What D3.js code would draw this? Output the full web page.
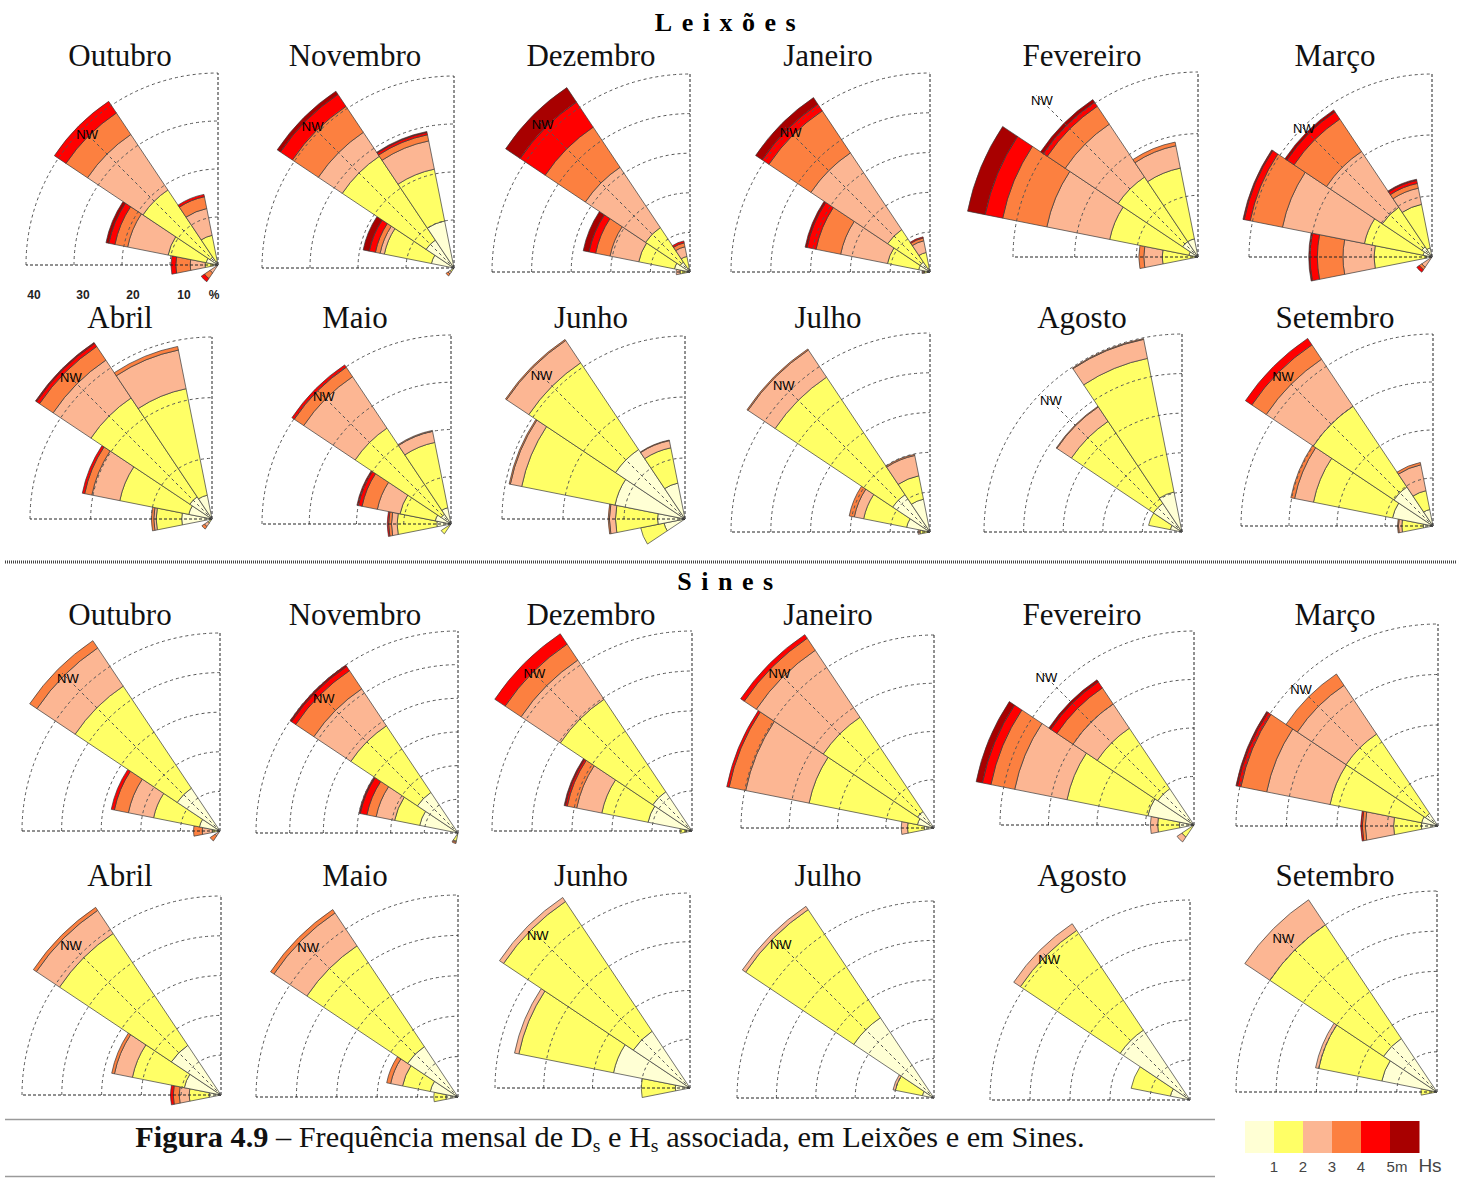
<!DOCTYPE html>
<html>
<head>
<meta charset="utf-8">
<script src="https://cdn.jsdelivr.net/npm/d3@7"></script>
<style>
  body { margin: 0; background: #fff; }
  svg { display: block; }
</style>
</head>
<body>
<svg id="fig" width="1463" height="1178"></svg>
<script>
// ---------------------------------------------------------------
// Hs classes: <1, 1-2, 2-3, 3-4, 4-5, >5 m
// ---------------------------------------------------------------
const hsLabels = ["1", "2", "3", "4", "5m"];
const hsColors = ["#FFFFD4", "#FFFF66", "#FCB693", "#FC8040", "#FF0000", "#A80000"];

const months = ["Outubro", "Novembro", "Dezembro", "Janeiro", "Fevereiro", "Março",
                "Abril", "Maio", "Junho", "Julho", "Agosto", "Setembro"];
const stations = ["Leixões", "Sines"];

// centre bearing (deg) of each 22.5° direction sector
const sectorBearing = { SSW: 202.5, SW: 225, WSW: 247.5, W: 270, WNW: 292.5, NW: 315, NNW: 337.5, N: 360 };

// outer limit (%) of the radial axis of each monthly rose
const leixoesAxisMax = [40, 40, 50, 50, 30, 30, 30, 40, 30, 50, 50, 40];
const sinesAxisMax   = [50, 60, 50, 40, 40, 40, 50, 50, 40, 50, 50, 50];
const radialTicks = [10, 20, 30, 40];

// Cumulative frequency (%) per direction, at the upper limit of each Hs class
// [direction, <1, <2, <3, <4, <5, all]
const leixoesOutubro = [["SW", 0, 0, 2, 3.4, 4.2], ["W", 1, 2.7, 5.8, 8.8, 9.8],
  ["WNW", 2.5, 10.6, 19.2, 21.9, 23.2, 23.8], ["NW", 2, 18.8, 32.7, 38.1, 41], ["NNW", 0.8, 6.3, 12, 14.5, 15]];
const leixoesNovembro = [["SW", 0, 1, 1.5, 2], ["WNW", 4.8, 14.8, 15.7, 16.7, 18, 19.3],
  ["NW", 7, 28, 34, 40.5, 43.5, 44.3], ["NNW", 10, 21, 27, 28.3, 28.8, 29]];
const leixoesDezembro = [["W", 1, 2.5, 3.5], ["WNW", 4, 13.2, 20.6, 24.3, 26, 27.5],
  ["NW", 3, 13.5, 31.8, 44, 51.6, 56], ["NNW", 1, 4, 6.5, 7.5, 8]];
const leixoesJaneiro = [["W", 0.5, 1.5, 2], ["WNW", 2.9, 10.9, 22.9, 29.2, 31.5, 32],
  ["NW", 3, 12.8, 36, 48.7, 50.7, 52.7], ["NNW", 1, 5, 8, 8.7, 9]];
const leixoesFevereiro = [["W", 0.5, 5.8, 8.8, 9.6], ["WNW", 1.5, 14.6, 25, 32.3, 35.2, 38.1],
  ["NW", 3, 15.6, 25.9, 29.4, 30.2, 30.7], ["NNW", 3, 14.7, 18.4, 19]];
const leixoesMarco = [["SW", 0, 0, 2, 2.5, 3], ["W", 1, 9.5, 14.6, 18.8, 20, 20.2],
  ["WNW", 1.5, 11.3, 25, 30.4, 31.4, 31.6], ["NW", 2, 9.8, 20.8, 27.2, 28.6, 29],
  ["NNW", 1.5, 8.8, 11.5, 12.3, 12.8, 13]];
const leixoesAbril = [["SW", 0, 0.8, 1.5, 2], ["W", 5, 9.2, 9.6, 10], ["WNW", 3.9, 15.5, 20.2, 21.4, 21.8],
  ["NW", 4.4, 24, 31.5, 34.2, 34.8, 35], ["NNW", 4, 21.9, 28.4, 29]];
const leixoesMaio = [["SW", 0.5, 2.5], ["W", 3, 11.4, 12.6, 13.2, 13.5], ["WNW", 3.4, 11, 15.9, 19.2, 20, 20.3],
  ["NW", 2.5, 24.4, 37.5, 39.9, 40.5], ["NNW", 3.5, 17.6, 20, 20.2]];
const leixoesJunho = [["WSW", 3.5, 7.4], ["W", 4.5, 11.4, 12.4, 12.6], ["WNW", 11.7, 27.3, 29.2, 29.4],
  ["NW", 13.7, 30.8, 35.2, 35.4], ["NNW", 6, 11.9, 13.1, 13.2]];
const leixoesJulho = [["W", 0.5, 2.5, 3], ["WNW", 6, 17, 19.4, 20.7],
  ["NW", 11.3, 46.8, 55, 55.3], ["NNW", 8.4, 14.4, 19.6, 19.9]];
const leixoesAgosto = [["WNW", 3, 8.6], ["NW", 8.7, 33.6, 38, 38.2], ["NNW", 10.3, 44.7, 49.6, 49.8]];
const leixoesSetembro = [["W", 2, 6.5, 7.2, 7.4], ["WNW", 8.6, 25.4, 29.4, 30.2],
  ["NW", 9.8, 30, 41.8, 45.4, 47], ["NNW", 3.5, 7.5, 13, 13.5]];

const sinesOutubro = [["SW", 0, 0, 1.5, 3], ["W", 0, 2, 4.5, 6.7],
  ["WNW", 5.3, 17.1, 23.6, 27.2, 28], ["NW", 13, 44, 55.6, 57.8]];
const sinesNovembro = [["SSW", 0, 2.5, 2.8, 3.2], ["WNW", 11.6, 19.2, 24.8, 27.6, 29.6, 30],
  ["NW", 14.5, 38.3, 51.5, 58, 59.5, 60]];
const sinesDezembro = [["W", 1.5, 3], ["WNW", 11.2, 23, 29.4, 31.8, 32.3, 32.6],
  ["NW", 11.8, 39.6, 51.4, 56.2, 59.3]];
const sinesJaneiro = [["W", 2, 5.5, 6.8], ["WNW", 3.5, 26.4, 39.8, 43.3, 43.8],
  ["NW", 4.1, 27.6, 44.3, 47.3, 48.2]];
const sinesFevereiro = [["SW", 0, 3, 4.2], ["W", 3, 7.5, 9], ["WNW", 9.7, 26.7, 37.7, 42.7, 44.5, 45.8],
  ["NW", 9, 24, 30, 34, 35.5, 36]];
const sinesMarco = [["W", 3.3, 8.8, 14.4, 15, 15.3], ["WNW", 3.3, 21.8, 34.6, 39.8, 40.5, 40.8],
  ["NW", 3, 21.9, 33.5, 36.2]];
const sinesAbril = [["W", 3, 8, 10.5, 12, 12.7], ["WNW", 9.4, 22.7, 27.3, 28], ["NW", 15, 48.8, 55.8, 56.7]];
const sinesMaio = [["W", 3, 6], ["WNW", 7, 14, 17, 18], ["NW", 15, 45, 54.8, 55.8]];
const sinesJunho = [["W", 3, 10], ["WNW", 16, 35.8, 36.7], ["NW", 14, 46, 47]];
const sinesJulho = [["WNW", 3, 10, 10.6], ["NW", 24.5, 57.5, 58.5]];
const sinesAgosto = [["WNW", 5, 15], ["NW", 21, 51, 53]];
const sinesSetembro = [["W", 0, 4], ["WNW", 14, 30, 30.8], ["NW", 16, 50, 57.5]];

const leixoesRoses = [leixoesOutubro, leixoesNovembro, leixoesDezembro, leixoesJaneiro, leixoesFevereiro, leixoesMarco,
  leixoesAbril, leixoesMaio, leixoesJunho, leixoesJulho, leixoesAgosto, leixoesSetembro];
const sinesRoses = [sinesOutubro, sinesNovembro, sinesDezembro, sinesJaneiro, sinesFevereiro, sinesMarco,
  sinesAbril, sinesMaio, sinesJunho, sinesJulho, sinesAgosto, sinesSetembro];

// ---------------------------------------------------------------
// Layout: origin (x, y) of every rose and radius of its outer ring
// ---------------------------------------------------------------
const titleX = [120, 355, 591, 828, 1082, 1335];
const titleY = [[66, 328], [625, 886]];
const roseOrigin = [
  [[218, 265], [454, 268], [690, 272], [930, 272], [1198, 257], [1432, 257],
   [212, 519], [451, 524], [685, 519], [930, 532], [1182, 532], [1433, 526]],
  [[220, 831], [458, 833], [692, 831], [934, 828], [1194, 825], [1438, 826],
   [221, 1095], [458, 1097], [690, 1088], [934, 1098], [1190, 1100], [1437, 1092]]
];
const roseRadius = [
  [192, 192, 198, 199, 185, 183, 182, 189, 183, 199, 198, 192],
  [198, 202, 200, 193, 194, 202, 199, 202, 195, 197, 200, 201]
];

const svg = d3.select("#fig");
const rad = Math.PI / 180;
const half = 11.25 * rad;
const arc = d3.arc();
const serif = "Liberation Serif, Times New Roman, serif";
const sans = "Liberation Sans, Arial, sans-serif";

function drawRose(g, data, axisMax, R, withTicks) {
  const r = d3.scaleLinear().domain([0, axisMax]).range([0, R]);

  // stacked Hs bands of each direction sector
  const sectors = g.append("g").attr("class", "sectors");
  let maxOuter = 0;
  data.forEach(([dir, ...cum]) => {
    const b = sectorBearing[dir] * rad;
    let inner = 0;
    cum.forEach((c, i) => {
      if (c > inner) {
        sectors.append("path")
          .attr("d", arc({ innerRadius: r(inner), outerRadius: r(c), startAngle: b - half, endAngle: b + half }))
          .attr("fill", hsColors[i])
          .attr("stroke", "#3a3a3a")
          .attr("stroke-width", 0.7)
          .attr("stroke-linejoin", "round");
        inner = c;
      }
    });
    maxOuter = Math.max(maxOuter, r(inner));
  });

  // polar grid (drawn over the sectors)
  const grid = g.append("g").attr("class", "grid").attr("fill", "none");
  d3.range(10, axisMax + 0.1, 10).forEach(v => {
    const rr = r(v);
    grid.append("path")
      .attr("d", `M${-rr},0 A${rr},${rr} 0 0 1 0,${-rr}`)
      .attr("stroke", "#555").attr("stroke-width", 1).attr("stroke-dasharray", "3,3");
  });
  grid.append("line").attr("x1", 0).attr("y1", 0).attr("x2", -R).attr("y2", 0)
    .attr("stroke", "#222").attr("stroke-width", 1).attr("stroke-dasharray", "3,2");
  grid.append("line").attr("x1", 0).attr("y1", 0).attr("x2", 0).attr("y2", -R)
    .attr("stroke", "#222").attr("stroke-width", 1).attr("stroke-dasharray", "3,2");

  // NW direction label on its radial
  const L = 0.94 * maxOuter;
  const s = Math.SQRT1_2;
  grid.append("line").attr("x1", 0).attr("y1", 0).attr("x2", -(L + 8) * s).attr("y2", -(L + 8) * s)
    .attr("stroke", "#555").attr("stroke-width", 1).attr("stroke-dasharray", "3,3");
  g.append("text")
    .attr("x", -L * s).attr("y", -L * s)
    .attr("text-anchor", "middle").attr("dominant-baseline", "central")
    .attr("font-family", sans).attr("font-size", 13)
    .attr("fill", "#000")
    .text("NW");

  if (withTicks) {
    const t = g.append("g").attr("font-family", sans)
      .attr("font-size", 12).attr("font-weight", "bold").attr("fill", "#222").attr("text-anchor", "middle");
    const tickShift = { 10: 14, 20: 11, 30: 9, 40: 8 };
    radialTicks.forEach(v => {
      t.append("text").attr("x", -r(v) + tickShift[v]).attr("y", 34).text(v);
    });
    t.append("text").attr("x", -4).attr("y", 34).text("%");
  }
}

// scale a text element's font so that it spans the given width
function fitWidth(sel, width) {
  const fs = +sel.attr("font-size");
  const w = sel.node().getComputedTextLength();
  if (w > 0) sel.attr("font-size", fs * width / w);
}

const axisMax = [leixoesAxisMax, sinesAxisMax];
const roses = [leixoesRoses, sinesRoses];

stations.forEach((st, si) => {
  // station heading
  svg.append("text")
    .attr("x", 730).attr("y", si === 0 ? 31 : 590)
    .attr("text-anchor", "middle")
    .attr("font-family", serif)
    .attr("font-size", 26).attr("font-weight", "bold")
    .attr("letter-spacing", 9.5)
    .text(st);

  months.forEach((m, mi) => {
    const row = Math.floor(mi / 6), col = mi % 6;
    svg.append("text")
      .attr("x", titleX[col]).attr("y", titleY[si][row])
      .attr("text-anchor", "middle")
      .attr("font-family", serif)
      .attr("font-size", 31)
      .attr("fill", "#111")
      .text(m);

    const [ox, oy] = roseOrigin[si][mi];
    const g = svg.append("g").attr("transform", `translate(${ox},${oy})`);
    drawRose(g, roses[si][mi], axisMax[si][mi], roseRadius[si][mi], si === 0 && mi === 0);
  });
});

// separator between the two stations
svg.append("line").attr("x1", 5).attr("x2", 1457).attr("y1", 562).attr("y2", 562)
  .attr("stroke", "#444").attr("stroke-width", 3).attr("stroke-dasharray", "1,1");

// caption rules
svg.append("line").attr("x1", 5).attr("x2", 1215).attr("y1", 1119.5).attr("y2", 1119.5)
  .attr("stroke", "#9a9a9a").attr("stroke-width", 1.5);
svg.append("line").attr("x1", 5).attr("x2", 1215).attr("y1", 1176.5).attr("y2", 1176.5)
  .attr("stroke", "#9a9a9a").attr("stroke-width", 1.5);

// caption
const cap = svg.append("text")
  .attr("x", 610).attr("y", 1147).attr("text-anchor", "middle")
  .attr("font-family", serif)
  .attr("font-size", 26).attr("fill", "#111");
cap.append("tspan").attr("font-weight", "bold").text("Figura 4.9");
cap.append("tspan").text(" – Frequência mensal de D");
cap.append("tspan").attr("font-size", "0.65em").attr("dy", 5).text("s");
cap.append("tspan").attr("dy", -5).text(" e H");
cap.append("tspan").attr("font-size", "0.65em").attr("dy", 5).text("s");
cap.append("tspan").attr("dy", -5).text(" associada, em Leixões e em Sines.");
fitWidth(cap, 950);

// Hs colour key
const key = svg.append("g").attr("transform", "translate(1245,1121)");
const kx = d3.scaleBand().domain(d3.range(hsColors.length)).range([0, 174]);
key.selectAll("rect").data(hsColors).join("rect")
  .attr("x", (d, i) => kx(i)).attr("y", 0)
  .attr("width", kx.bandwidth() + 0.5).attr("height", 32)
  .attr("fill", d => d);
key.selectAll("text.k").data(hsLabels).join("text")
  .attr("class", "k")
  .attr("x", (d, i) => kx(i + 1) + (d === "5m" ? 7 : 0))
  .attr("y", 51)
  .attr("text-anchor", "middle")
  .attr("font-family", sans)
  .attr("font-size", 15).attr("fill", "#444")
  .text(d => d);
key.append("text").attr("x", 185).attr("y", 51).attr("text-anchor", "middle")
  .attr("font-family", sans)
  .attr("font-size", 19).attr("fill", "#444").text("Hs");
</script>
</body>
</html>
